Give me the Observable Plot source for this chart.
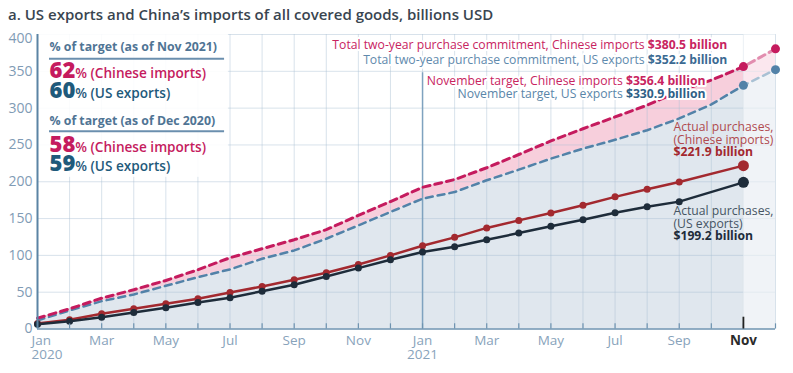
<!DOCTYPE html>
<html><head><meta charset="utf-8">
<script src="https://cdn.jsdelivr.net/npm/d3@7"></script>
<script src="https://cdn.jsdelivr.net/npm/@observablehq/plot@0.6"></script>
<style>
body{margin:0;background:#fff;font-family:"Open Sans",sans-serif;}
#title{height:28px;line-height:28px;padding-left:8px;font-size:15px;font-weight:600;color:#394550;white-space:nowrap;}
#chart svg{overflow:visible;}
</style></head><body>
<div id="title">a. US exports and China’s imports of all covered goods, billions USD</div>
<div id="chart"></div>
<script>
// ---- data (billions USD, cumulative) ----
const months = ["2020-01","2020-02","2020-03","2020-04","2020-05","2020-06","2020-07","2020-08","2020-09","2020-10","2020-11","2020-12",
                "2021-01","2021-02","2021-03","2021-04","2021-05","2021-06","2021-07","2021-08","2021-09","2021-10","2021-11","2021-12"];
const chinaTarget = [14.7,27.4,41.9,53.3,65.9,80.5,96.8,109,121.3,134.9,154.3,173.1,192.5,203,219,237,255.4,272,288,304,323,338,356.4,380.5];
const usTarget    = [11.6,25.2,37.8,46.9,58.7,70.4,81,95.4,106.7,122.6,140.7,159.0,177,186,202,216.4,231.4,245,257,270,286,305,330.9,352.2];
const chinaActual = [7.5,12.5,20.7,27.4,34.2,41,49.5,57.8,66.9,76.4,87.7,100.0,113,124.5,137.3,147.5,157.5,168,179.5,189.7,199.6,null,221.9];
const usActual    = [6.5,10.6,16,22.4,28.8,36,42.4,51.4,60,71.4,82.7,94.1,104.5,111.7,121.2,130.3,139.6,148.5,158,166,173,null,199.2];
const yTicks = [0,50,100,150,200,250,300,350,400];
const xTickMonths = ["2020-01","2020-03","2020-05","2020-07","2020-09","2020-11","2021-01","2021-03","2021-05","2021-07","2021-09","2021-11"];
const xTickLabels = ["Jan\n2020","Mar","May","Jul","Sep","Nov","Jan\n2021","Mar","May","Jul","Sep","Nov"];

// ---- derived tables ----
const idx = m => months.indexOf(m);
const T = months.map((m,i)=>({i, ct: chinaTarget[i], ut: usTarget[i]}));
const CA = chinaActual.map((v,i)=>({i, v})).filter(d=>d.v!=null);
const UA = usActual.map((v,i)=>({i, v})).filter(d=>d.v!=null);
const lastA = chinaActual.length-1;
const nov21 = idx("2021-11"), dec21 = idx("2021-12"), jan21 = idx("2021-01");
const xt = xTickMonths.map((m,k)=>({i: idx(m), label: xTickLabels[k], bold: m==="2021-11", first: k===0}));

// ---- colours ----
const C = {chinaT:"#c51b5e", usT:"#5282a8", chinaA:"#a3292f", usA:"#1e2c3a",
           band:"#f7cfdc", base:"#e0e7ee", grid:"#a9bfd2", axis:"#5b84a4", tick:"#7f9bb5"};

// ---- annotations (layout) ----
const notesEnd = [
  {x:21.5, y:385, t:"Total two-year purchase commitment, Chinese imports §$380.5 billion§", fill:"#c8245f"},
  {x:21.5, y:364.7, t:"Total two-year purchase commitment, US exports §#3b6a92|$352.2 billion§", fill:"#5f8aad"},
  {x:20.82, y:336.2, t:"November target, Chinese imports §$356.4 billion§", fill:"#c8245f"},
  {x:20.82, y:318.5, t:"November target, US exports §#2f5f86|$330.9 billion§", fill:"#5a86a9"}
];
const notesStart = [
  {x:19.82, y:270.6, t:"Actual purchases,\n(Chinese imports)\n§#a3292f|$221.9 billion§", fill:"#b04a4f"},
  {x:19.82, y:156.5, t:"Actual purchases,\n(US exports)\n§#1e2c3a|$199.2 billion§", fill:"#465563"}
];
const legendHeads = [
  {y:382.3, t:"% of target (as of Nov 2021)"},
  {y:282.2, t:"% of target (as of Dec 2020)"}
];
const legendVals = [
  {y:346.6, t:"¤62¤% (Chinese imports)", fill:"#c51b5e"},
  {y:320.3, t:"¤60¤% (US exports)", fill:"#1f5a7b"},
  {y:246.1, t:"¤58¤% (Chinese imports)", fill:"#c51b5e"},
  {y:220.7, t:"¤59¤% (US exports)", fill:"#1f5a7b"}
];
const legendRules = [367, 268.7];
const legendX = 0.374;

const plot = Plot.plot({
  width: 793, height: 345,
  marginTop: 6, marginBottom: 44.5, marginLeft: 37, marginRight: 18,
  style: {fontFamily: "Open Sans, sans-serif", background: "white"},
  x: {domain: [0, months.length-1], axis: null},
  y: {domain: [0, 400], axis: null},
  marks: [
    Plot.areaY(T, {x:"i", y1:"ut", y2:"ct", fill:C.band}),
    Plot.areaY(T, {x:"i", y1:0, y2:"ut", fill:C.base}),
    Plot.ruleX(d3.range(months.length), {y1:0, y2:400, stroke:C.grid, strokeOpacity:0.45}),
    Plot.ruleY(yTicks.slice(1), {stroke:C.grid, strokeOpacity:0.45}),
    Plot.rect([0], {x1:0.03, x2:5.95, y1:206, y2:400, fill:"white", fillOpacity:0.88}),
    Plot.ruleX([jan21], {y1:0, y2:348, stroke:"#7fa2bf", strokeWidth:1.5}),
    Plot.lineY(T, {x:"i", y:"ut", stroke:C.usT, strokeWidth:2.5, strokeDasharray:"7,5"}),
    Plot.lineY(T, {x:"i", y:"ct", stroke:C.chinaT, strokeWidth:3, strokeDasharray:"7,5"}),
    Plot.lineY(CA, {x:"i", y:"v", stroke:C.chinaA, strokeWidth:2.5}),
    Plot.lineY(UA, {x:"i", y:"v", stroke:C.usA, strokeWidth:2.5}),
    Plot.dot(CA.filter(d=>d.i!==lastA), {x:"i", y:"v", r:3.5, fill:C.chinaA}),
    Plot.dot(UA.filter(d=>d.i!==lastA), {x:"i", y:"v", r:3.5, fill:C.usA}),
    Plot.rect([0], {x1:nov21, x2:dec21, y1:0, y2:400, fill:"white", fillOpacity:0.5}),
    Plot.dot(CA.filter(d=>d.i===lastA), {x:"i", y:"v", r:5.5, fill:C.chinaA}),
    Plot.dot(UA.filter(d=>d.i===lastA), {x:"i", y:"v", r:5.5, fill:C.usA}),
    Plot.dot(T.filter(d=>d.i>=nov21), {x:"i", y:"ct", r:4.5, fill:C.chinaT}),
    Plot.dot(T.filter(d=>d.i>=nov21), {x:"i", y:"ut", r:4.5, fill:C.usT}),
    // axes
    Plot.ruleX([0], {y1:0, y2:400, stroke:C.axis, strokeWidth:2}),
    Plot.ruleY([0], {x1:0, x2:months.length-1, stroke:"#6e93b0", strokeWidth:1.5}),
    Plot.ruleX(d3.range(1, months.length), {y1:0, y2:7, stroke:"#6e93b0", strokeWidth:1.2}),
    Plot.ruleX([nov21], {y1:0, y2:16, stroke:"#222", strokeWidth:1.8}),
    Plot.text(yTicks.filter(v=>v<400), {x:0, y:d=>d, text:d=>String(d), textAnchor:"end", dx:-5, fill:C.tick, fontSize:14}),
    Plot.text([400], {x:0, y:d=>d, text:d=>String(d), textAnchor:"end", dx:-5, dy:4, fill:C.tick, fontSize:14}),
    Plot.text(xt.filter(d=>d.first), {x:"i", frameAnchor:"bottom", text:"label", lineAnchor:"top", dy:6, dx:-6, textAnchor:"start", fill:"#88a3bb", fontSize:13.5, lineHeight:1.02}),
    Plot.text(xt.filter(d=>!d.bold && !d.first), {x:"i", frameAnchor:"bottom", text:"label", lineAnchor:"top", dy:6, textAnchor:"middle", fill:"#88a3bb", fontSize:13.5, lineHeight:1.02}),
    Plot.text(xt.filter(d=>d.bold), {x:"i", frameAnchor:"bottom", text:"label", lineAnchor:"top", dy:6, fill:"#2b2b2b", fontWeight:700, fontSize:13.5}),
    // annotations
    Plot.text(notesEnd, {x:"x", y:"y", text:"t", fill:"fill", textAnchor:"end", fontSize:12.2, stroke:"white", strokeWidth:4}),
    Plot.text(notesStart, {x:"x", y:"y", text:"t", fill:"fill", textAnchor:"start", lineAnchor:"top", dy:-7, fontSize:12.2, lineHeight:1.0}),
    // legend
    Plot.text(legendHeads, {x:legendX, y:"y", text:"t", fill:"#4f7494", fontSize:12.3, fontWeight:700, textAnchor:"start"}),
    Plot.text(legendVals, {x:legendX, y:"y", text:"t", fill:"fill", fontSize:13.6, fontWeight:600, textAnchor:"start"}),
    Plot.ruleY(legendRules, {x1:legendX, x2:5.83, stroke:"#6b8fae", strokeWidth:2})
  ]
});
document.getElementById("chart").appendChild(plot);

// rich text: §...§ bold (optional #color|), ¤...¤ big bold number
(function rich(root){
  const NS="http://www.w3.org/2000/svg";
  root.querySelectorAll("text, tspan").forEach(el=>{
    [...el.childNodes].forEach(node=>{
      if(node.nodeType!==3) return;
      const s=node.textContent;
      if(!/[§¤]/.test(s)) return;
      const frag=document.createDocumentFragment();
      s.split(/(§[^§]*§|¤[^¤]*¤)/).filter(Boolean).forEach(p=>{
        const t=document.createElementNS(NS,"tspan");
        let body=p;
        if(p[0]==="§"||p[0]==="¤"){
          body=p.slice(1,-1);
          const m=body.match(/^(#[0-9a-fA-F]{6})\|(.*)$/);
          if(m){t.setAttribute("fill",m[1]); body=m[2];}
          t.setAttribute("font-weight","700");
          if(p[0]==="¤"){t.setAttribute("font-size","22"); t.setAttribute("font-weight","800");}
        }
        t.textContent=body;
        frag.appendChild(t);
      });
      el.replaceChild(frag,node);
    });
  });
})(plot);
</script>
</body></html>
